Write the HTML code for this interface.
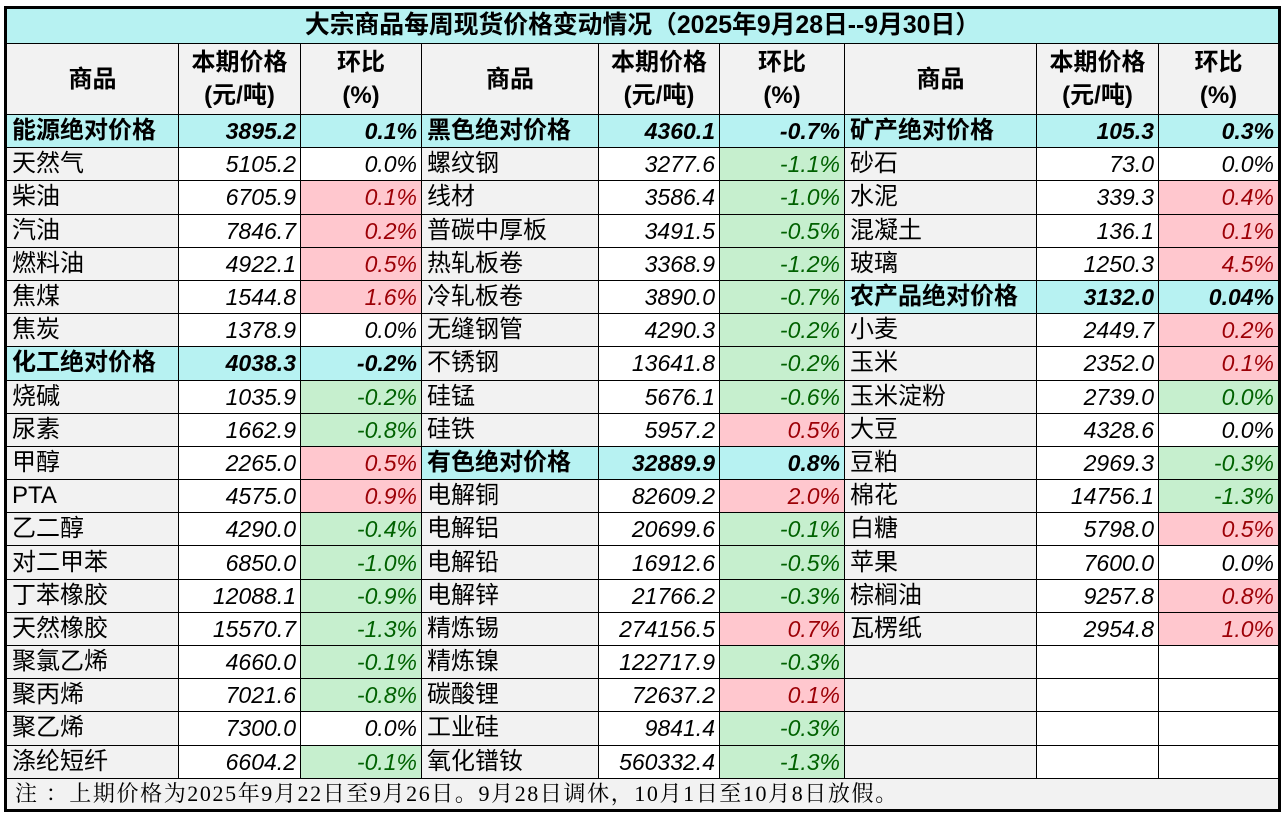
<!DOCTYPE html>
<html><head><meta charset="utf-8"><style>
body{margin:0;background:#fff;width:1284px;height:816px;overflow:hidden;font-family:"Liberation Sans","Noto Sans CJK SC",sans-serif;}
table{position:absolute;left:4px;top:6px;border-collapse:collapse;table-layout:fixed;border:3px solid #000;}
td{border:1.5px solid #000;padding:0 4px;font-size:23px;white-space:nowrap;overflow:hidden;height:33.2px;box-sizing:border-box;line-height:28px}
td.n{background:#f2f2f2;text-align:left;padding-left:5px;font-size:24px}
td.p{background:#fff;text-align:right;font-style:italic}
td.c{background:#fff;text-align:right;font-style:italic}
td.r{background:#ffc7ce;color:#9c0006}
td.g{background:#c6efce;color:#006100}
tr.h td{background:#b7f2f2;font-weight:bold;color:#000}
td.hh{background:#b7f2f2 !important;font-weight:bold}
.title td{background:#b7f2f2;font-weight:bold;text-align:center;height:36px;font-size:24.8px}
.hd td{background:#f2f2f2;font-weight:bold;text-align:center;height:71px;line-height:33px;font-size:24px}
.ft td{background:#f2f2f2;height:32px;font-size:22px;font-family:"Liberation Serif","Noto Serif CJK SC",serif;padding-left:8px;letter-spacing:1.6px}
</style></head><body>
<table>
<colgroup><col style="width:173px"><col style="width:122px"><col style="width:121px"><col style="width:177px"><col style="width:121px"><col style="width:125px"><col style="width:192px"><col style="width:122px"><col style="width:121px"></colgroup>
<tr class="title"><td colspan="9">大宗商品每周现货价格变动情况（2025年9月28日--9月30日）</td></tr>
<tr class="hd"><td>商品</td><td>本期价格<br>(元/吨)</td><td>环比<br>(%)</td><td>商品</td><td>本期价格<br>(元/吨)</td><td>环比<br>(%)</td><td>商品</td><td>本期价格<br>(元/吨)</td><td>环比<br>(%)</td></tr>
<tr class="h"><td class="n">能源绝对价格</td><td class="p">3895.2</td><td class="c">0.1%</td><td class="n">黑色绝对价格</td><td class="p">4360.1</td><td class="c">-0.7%</td><td class="n">矿产绝对价格</td><td class="p">105.3</td><td class="c">0.3%</td></tr>
<tr><td class="n">天然气</td><td class="p">5105.2</td><td class="c">0.0%</td><td class="n">螺纹钢</td><td class="p">3277.6</td><td class="c g">-1.1%</td><td class="n">砂石</td><td class="p">73.0</td><td class="c">0.0%</td></tr>
<tr><td class="n">柴油</td><td class="p">6705.9</td><td class="c r">0.1%</td><td class="n">线材</td><td class="p">3586.4</td><td class="c g">-1.0%</td><td class="n">水泥</td><td class="p">339.3</td><td class="c r">0.4%</td></tr>
<tr><td class="n">汽油</td><td class="p">7846.7</td><td class="c r">0.2%</td><td class="n">普碳中厚板</td><td class="p">3491.5</td><td class="c g">-0.5%</td><td class="n">混凝土</td><td class="p">136.1</td><td class="c r">0.1%</td></tr>
<tr><td class="n">燃料油</td><td class="p">4922.1</td><td class="c r">0.5%</td><td class="n">热轧板卷</td><td class="p">3368.9</td><td class="c g">-1.2%</td><td class="n">玻璃</td><td class="p">1250.3</td><td class="c r">4.5%</td></tr>
<tr><td class="n">焦煤</td><td class="p">1544.8</td><td class="c r">1.6%</td><td class="n">冷轧板卷</td><td class="p">3890.0</td><td class="c g">-0.7%</td><td class="n hh">农产品绝对价格</td><td class="p hh">3132.0</td><td class="c hh">0.04%</td></tr>
<tr><td class="n">焦炭</td><td class="p">1378.9</td><td class="c">0.0%</td><td class="n">无缝钢管</td><td class="p">4290.3</td><td class="c g">-0.2%</td><td class="n">小麦</td><td class="p">2449.7</td><td class="c r">0.2%</td></tr>
<tr><td class="n hh">化工绝对价格</td><td class="p hh">4038.3</td><td class="c hh">-0.2%</td><td class="n">不锈钢</td><td class="p">13641.8</td><td class="c g">-0.2%</td><td class="n">玉米</td><td class="p">2352.0</td><td class="c r">0.1%</td></tr>
<tr><td class="n">烧碱</td><td class="p">1035.9</td><td class="c g">-0.2%</td><td class="n">硅锰</td><td class="p">5676.1</td><td class="c g">-0.6%</td><td class="n">玉米淀粉</td><td class="p">2739.0</td><td class="c g">0.0%</td></tr>
<tr><td class="n">尿素</td><td class="p">1662.9</td><td class="c g">-0.8%</td><td class="n">硅铁</td><td class="p">5957.2</td><td class="c r">0.5%</td><td class="n">大豆</td><td class="p">4328.6</td><td class="c">0.0%</td></tr>
<tr><td class="n">甲醇</td><td class="p">2265.0</td><td class="c r">0.5%</td><td class="n hh">有色绝对价格</td><td class="p hh">32889.9</td><td class="c hh">0.8%</td><td class="n">豆粕</td><td class="p">2969.3</td><td class="c g">-0.3%</td></tr>
<tr><td class="n">PTA</td><td class="p">4575.0</td><td class="c r">0.9%</td><td class="n">电解铜</td><td class="p">82609.2</td><td class="c r">2.0%</td><td class="n">棉花</td><td class="p">14756.1</td><td class="c g">-1.3%</td></tr>
<tr><td class="n">乙二醇</td><td class="p">4290.0</td><td class="c g">-0.4%</td><td class="n">电解铝</td><td class="p">20699.6</td><td class="c g">-0.1%</td><td class="n">白糖</td><td class="p">5798.0</td><td class="c r">0.5%</td></tr>
<tr><td class="n">对二甲苯</td><td class="p">6850.0</td><td class="c g">-1.0%</td><td class="n">电解铅</td><td class="p">16912.6</td><td class="c g">-0.5%</td><td class="n">苹果</td><td class="p">7600.0</td><td class="c">0.0%</td></tr>
<tr><td class="n">丁苯橡胶</td><td class="p">12088.1</td><td class="c g">-0.9%</td><td class="n">电解锌</td><td class="p">21766.2</td><td class="c g">-0.3%</td><td class="n">棕榈油</td><td class="p">9257.8</td><td class="c r">0.8%</td></tr>
<tr><td class="n">天然橡胶</td><td class="p">15570.7</td><td class="c g">-1.3%</td><td class="n">精炼锡</td><td class="p">274156.5</td><td class="c r">0.7%</td><td class="n">瓦楞纸</td><td class="p">2954.8</td><td class="c r">1.0%</td></tr>
<tr><td class="n">聚氯乙烯</td><td class="p">4660.0</td><td class="c g">-0.1%</td><td class="n">精炼镍</td><td class="p">122717.9</td><td class="c g">-0.3%</td><td class="n"></td><td class="p"></td><td class="c"></td></tr>
<tr><td class="n">聚丙烯</td><td class="p">7021.6</td><td class="c g">-0.8%</td><td class="n">碳酸锂</td><td class="p">72637.2</td><td class="c r">0.1%</td><td class="n"></td><td class="p"></td><td class="c"></td></tr>
<tr><td class="n">聚乙烯</td><td class="p">7300.0</td><td class="c">0.0%</td><td class="n">工业硅</td><td class="p">9841.4</td><td class="c g">-0.3%</td><td class="n"></td><td class="p"></td><td class="c"></td></tr>
<tr><td class="n">涤纶短纤</td><td class="p">6604.2</td><td class="c g">-0.1%</td><td class="n">氧化镨钕</td><td class="p">560332.4</td><td class="c g">-1.3%</td><td class="n"></td><td class="p"></td><td class="c"></td></tr>
<tr class="ft"><td colspan="9">注 ：上期价格为2025年9月22日至9月26日。9月28日调休，10月1日至10月8日放假。</td></tr>
</table>
</body></html>
